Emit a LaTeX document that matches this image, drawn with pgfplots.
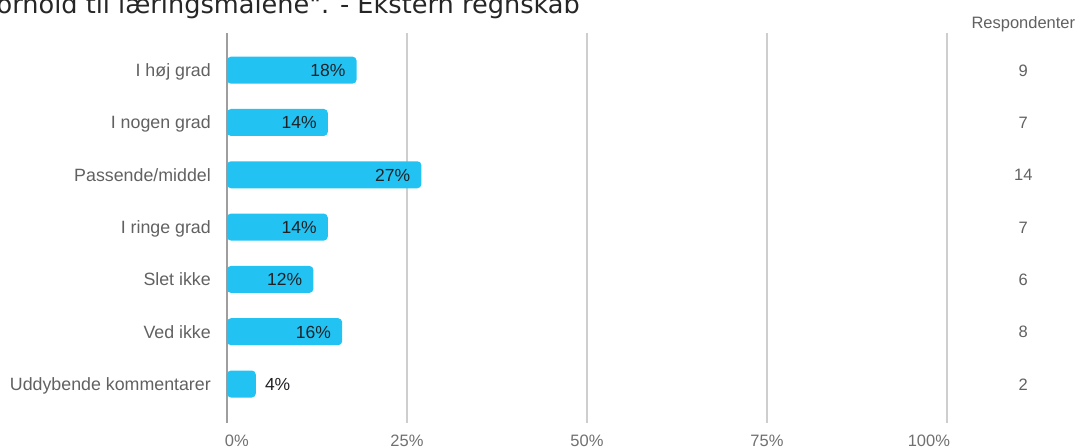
\documentclass[border=0pt]{standalone}
\usepackage{fontspec}
\setmainfont{Liberation Sans}
\newfontfamily\titlefont{DejaVu Sans}
\usepackage{pgfplots}
\pgfplotsset{compat=1.18}
\definecolor{barblue}{RGB}{34,195,243}
\definecolor{labgray}{RGB}{97,97,97}
\definecolor{tickgray}{RGB}{112,112,112}
\definecolor{valdark}{RGB}{32,33,36}
\definecolor{gridgray}{RGB}{206,206,206}
\definecolor{zerogray}{RGB}{158,158,158}
\begin{document}
\begin{tikzpicture}
\path[use as bounding box, clip] (0,0) rectangle (1083bp,448bp);
\node[anchor=base east, inner sep=0, font=\titlefont\fontsize{25.6bp}{30bp}\selectfont, text=black!85]
  at (580bp,434bp) {Hvordan vurderer du dit udbytte i forhold til læringsmålene". - Ekstern regnskab};
\begin{axis}[
  at={(227bp,25bp)}, anchor=south west,
  scale only axis, width=720bp, height=390bp,
  xmin=0, xmax=100, ymin=-0.71, ymax=6.745, y dir=reverse,
  axis line style={draw=none},
  major tick length=0pt,
  clip=false,
  xtick={25,50,75,100},
  xticklabels={25\%,50\%,75\%,\makebox[0pt][r]{100\%\hspace{-3bp}}},
  extra x ticks={0},
  extra x tick labels={\makebox[0pt][l]{\hspace{-2bp}0\%}},
  extra x tick style={grid style={draw=zerogray, line width=2bp}},
  xmajorgrids,
  grid style={draw=gridgray, line width=1.6bp},
  xticklabel style={font=\fontsize{16.5bp}{19bp}\selectfont, text=tickgray, inner sep=0pt, anchor=north, yshift=-12bp},
  ytick={0,1,2,3,4,5,6},
  yticklabels={I høj grad, I nogen grad, Passende/middel, I ringe grad, Slet ikke, Ved ikke, Uddybende kommentarer},
  yticklabel style={font=\fontsize{17.8bp}{21bp}\selectfont, text=labgray, inner sep=0pt, anchor=base east, xshift=-16bp, yshift=-6.3bp},
]
\addplot[xbar, bar width=27bp, bar shift=0pt, fill=barblue, draw=none, rounded corners=4bp]
  coordinates {(18,0) (14,1) (27,2) (14,3) (12,4) (16,5) (4,6)};
\addplot[draw=none, nodes near coords, point meta=explicit symbolic,
  every node near coord/.append style={anchor=base east, xshift=-11bp, yshift=-6.3bp, inner sep=0pt,
    font=\fontsize{17.5bp}{21bp}\selectfont, text=valdark}]
  coordinates {(18,0)[18\%] (14,1)[14\%] (27,2)[27\%] (14,3)[14\%] (12,4)[12\%] (16,5)[16\%]};
\addplot[draw=none, nodes near coords, point meta=explicit symbolic,
  every node near coord/.append style={anchor=base west, xshift=9bp, yshift=-6.3bp, inner sep=0pt,
    font=\fontsize{17.5bp}{21bp}\selectfont, text=valdark}]
  coordinates {(4,6)[4\%]};
\addplot[draw=none, nodes near coords, point meta=explicit symbolic,
  every node near coord/.append style={anchor=base, yshift=-6.1bp, inner sep=0pt,
    font=\fontsize{16.5bp}{19bp}\selectfont, text=labgray}]
  coordinates {(110.6,0)[9] (110.6,1)[7] (110.6,2)[14] (110.6,3)[7] (110.6,4)[6] (110.6,5)[8] (110.6,6)[2]};
\node[anchor=base, inner sep=0pt, font=\fontsize{16.5bp}{19bp}\selectfont, text=labgray]
  at ([yshift=4.7bp]axis cs:110.6,-0.71) {Respondenter};
\end{axis}
\end{tikzpicture}
\end{document}
